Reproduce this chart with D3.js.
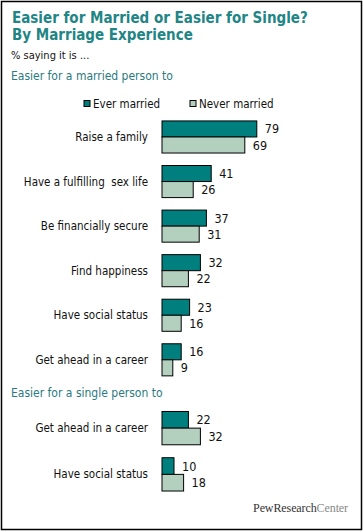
<!DOCTYPE html>
<html><head><meta charset="utf-8">
<script src="https://cdn.jsdelivr.net/npm/d3@7"></script>
<style>
body{margin:0;background:#fff;}
svg{display:block;}
</style></head>
<body>
<script>
const seriesNames = ["Ever married", "Never married"];
const marriedCategories = ["Raise a family", "Have a fulfilling  sex life", "Be financially secure", "Find happiness", "Have social status", "Get ahead in a career"];
const marriedEver = [79, 41, 37, 32, 23, 16];
const marriedNever = [69, 26, 31, 22, 16, 9];
const singleCategories = ["Get ahead in a career", "Have social status"];
const singleEver = [22, 10];
const singleNever = [32, 18];
const colors = ["#007f7f", "#b3cfbe"];

const W = 364, H = 532;
const svg = d3.select("body").append("svg").attr("width", W).attr("height", H);
const font = "Tahoma, 'DejaVu Sans Condensed', 'DejaVu Sans', sans-serif";

svg.append("rect").attr("x", 1.5).attr("y", 1.5).attr("width", 360).attr("height", 528)
  .attr("fill", "none").attr("stroke", "#000").attr("stroke-width", 1.5);

const teal = "#1f8585";
svg.append("text").attr("x", 12).attr("y", 23).text("Easier for Married or Easier for Single?")
  .attr("font-family", font).attr("font-weight", "bold").attr("font-size", 15).attr("fill", teal);
svg.append("text").attr("x", 12).attr("y", 40).text("By Marriage Experience")
  .attr("font-family", font).attr("font-weight", "bold").attr("font-size", 15).attr("fill", teal);
svg.append("text").attr("x", 11).attr("y", 59).text("% saying it is ...")
  .attr("font-family", font).attr("font-size", 11).attr("fill", "#111");
svg.append("text").attr("x", 11).attr("y", 80).text("Easier for a married person to")
  .attr("font-family", font).attr("font-size", 12).attr("fill", "#2a7a80");
svg.append("text").attr("x", 11).attr("y", 397).text("Easier for a single person to")
  .attr("font-family", font).attr("font-size", 12).attr("fill", "#2a7a80");

// legend
const legX = [84, 190];
seriesNames.forEach((n, i) => {
  svg.append("rect").attr("x", legX[i]).attr("y", 100.5).attr("width", 6).attr("height", 6)
    .attr("fill", colors[i]).attr("stroke", "#000").attr("stroke-width", 1);
  svg.append("text").attr("x", legX[i] + 9).attr("y", 108).text(n)
    .attr("font-family", font).attr("font-size", 11.5).attr("fill", "#111");
});

const x = d3.scaleLinear().domain([0, 100]).range([162, 282]);

function section(cats, ever, never, range) {
  const y = d3.scaleBand().domain(cats).range(range).paddingInner(0.28).paddingOuter(0.14);
  const sub = d3.scaleBand().domain([0, 1]).range([0, y.bandwidth()]);
  const data = [];
  cats.forEach((c, i) => { data.push({c, s: 0, v: ever[i]}); data.push({c, s: 1, v: never[i]}); });
  const g = svg.append("g");
  g.selectAll("rect").data(data).join("rect")
    .attr("x", x(0)).attr("y", d => y(d.c) + sub(d.s) + 0.5)
    .attr("width", d => x(d.v) - x(0)).attr("height", sub.bandwidth())
    .attr("fill", d => colors[d.s]).attr("stroke", "#000").attr("stroke-width", 1);
  g.selectAll("text.v").data(data).join("text").attr("class", "v")
    .attr("x", d => x(d.v) + 8).attr("y", d => y(d.c) + sub(d.s) + sub.bandwidth() / 2 + 5)
    .text(d => d.v).attr("font-family", font).attr("font-size", 12.5).attr("fill", "#111");
  g.selectAll("text.c").data(cats).join("text").attr("class", "c")
    .attr("x", 148).attr("y", d => y(d) + y.bandwidth() / 2 + 4.5).attr("text-anchor", "end")
    .text(d => d).attr("font-family", font).attr("font-size", 11.5).attr("fill", "#111")
    .style("white-space", "pre");
}
section(marriedCategories, marriedEver, marriedNever, [114.2, 381.6]);
section(singleCategories, singleEver, singleNever, [404.5, 497]);

const logo = svg.append("text").attr("x", 348).attr("y", 512).attr("text-anchor", "end")
  .attr("font-family", "'Liberation Serif', serif").attr("font-size", 12).attr("letter-spacing", -0.1);
logo.append("tspan").text("PewResearch").attr("fill", "#333");
logo.append("tspan").text("Center").attr("fill", "#888");
</script>
</body></html>
